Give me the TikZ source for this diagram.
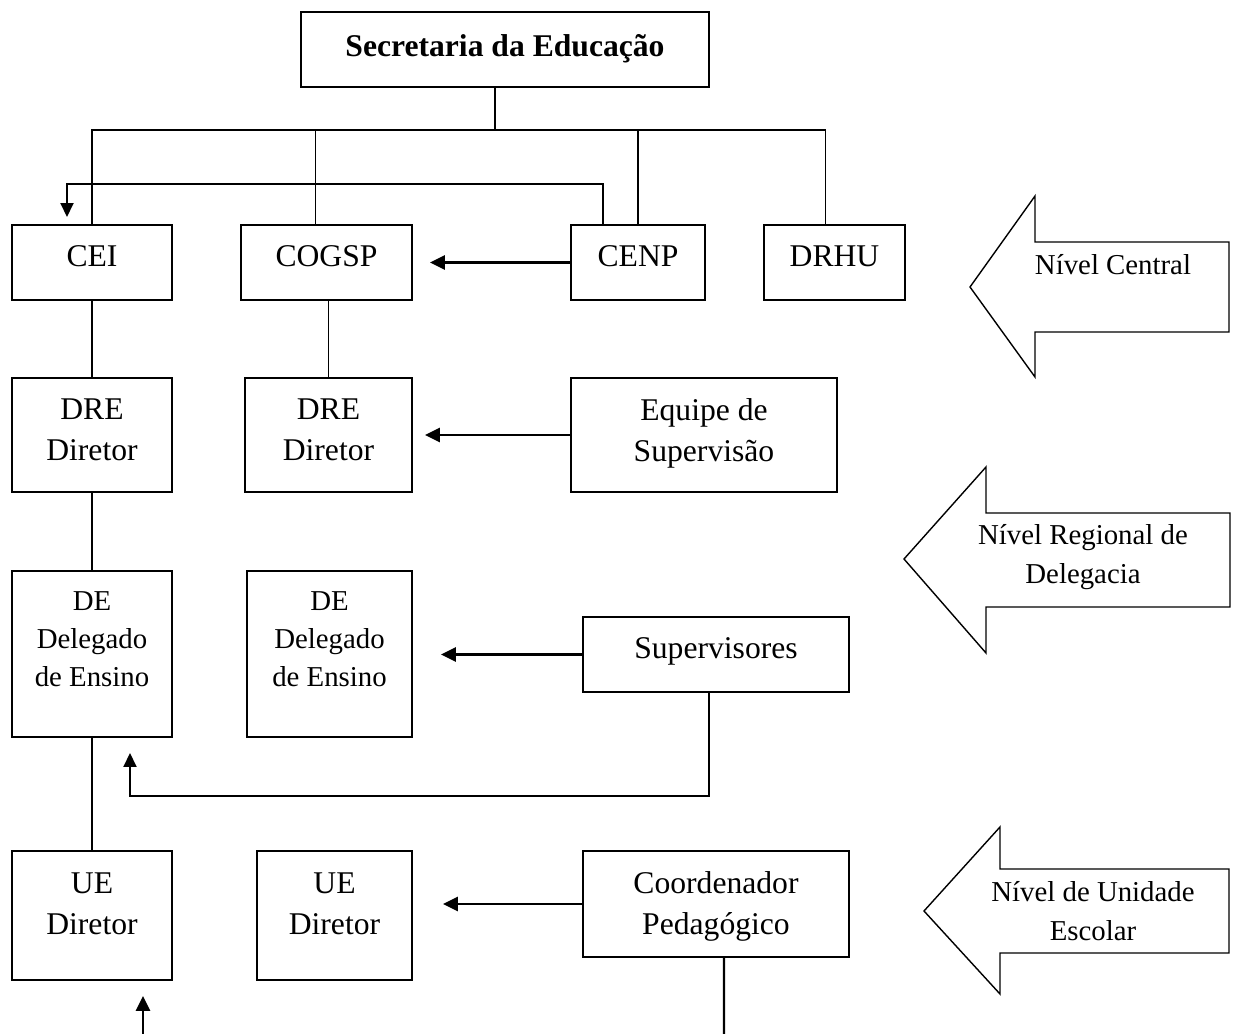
\documentclass[tikz,border=0pt]{standalone}
\usepackage{fontspec}
\setmainfont{Liberation Serif}
\usetikzlibrary{arrows.meta}

\tikzset{
  box/.style={draw, line width=1pt, inner sep=0pt, outer sep=0pt, align=center,
    text depth=0.24cm, font=\fontsize{18}{23.2}\selectfont},
  smalltext/.style={align=center, font=\fontsize{16.4}{21.8}\selectfont},
  levelarrow/.style={draw, line width=0.8pt, line join=miter},
  link/.style={line width=1pt},
  arr/.style={-{Triangle[length=0.28cm,width=0.26cm]}, line width=1.1pt},
  sidearr/.style={-{Triangle[length=0.3cm,width=0.28cm]}, line width=1.6pt}
}

\begin{document}
\begin{tikzpicture}[x=0.02cm, y=-0.02cm]
  \useasboundingbox (0,0) rectangle (1235,1034);

  % top
  \node[box, minimum width=8.16cm, minimum height=1.5cm, text depth=0.18cm,
    font=\fontsize{18}{23.2}\selectfont\bfseries] (sec) at (505,49.5) {Secretaria da Educação};

  % nivel central
  \node[box, minimum width=3.2cm, minimum height=1.5cm] (cei) at (92,262.5) {CEI};
  \node[box, minimum width=3.42cm, minimum height=1.5cm] (cogsp) at (326.5,262.5) {COGSP};
  \node[box, minimum width=2.68cm, minimum height=1.5cm] (cenp) at (638,262.5) {CENP};
  \node[box, minimum width=2.82cm, minimum height=1.5cm] (drhu) at (834.5,262.5) {DRHU};

  % nivel regional
  \node[box, minimum width=3.2cm, minimum height=2.28cm, text depth=0.2cm] (dre1) at (92,435) {DRE\\Diretor};
  \node[box, minimum width=3.34cm, minimum height=2.28cm, text depth=0.2cm] (dre2) at (328.5,435) {DRE\\Diretor};
  \node[box, minimum width=5.32cm, minimum height=2.28cm, text depth=0.2cm] (equipe) at (704,435) {Equipe de\\Supervisão};

  \node[box, smalltext, minimum width=3.2cm, minimum height=3.32cm, text depth=0.6cm] (de1) at (92,654) {DE\\Delegado\\de Ensino};
  \node[box, smalltext, minimum width=3.3cm, minimum height=3.32cm, text depth=0.6cm] (de2) at (329.5,654) {DE\\Delegado\\de Ensino};
  \node[box, minimum width=5.32cm, minimum height=1.5cm, text depth=0.26cm] (sup) at (716,654.5) {Supervisores};

  % nivel escola
  \node[box, minimum width=3.2cm, minimum height=2.58cm, text depth=0.48cm] (ue1) at (92,915.5) {UE\\Diretor};
  \node[box, minimum width=3.1cm, minimum height=2.58cm, text depth=0.48cm] (ue2) at (334.5,915.5) {UE\\Diretor};
  \node[box, minimum width=5.32cm, minimum height=2.12cm, text depth=0.05cm] (coord) at (716,904) {Coordenador\\Pedagógico};

  % tree lines
  \coordinate (trunk) at (495,130);
  \draw[link] (sec.south -| trunk) -- (trunk);
  \draw[link] (cei.north) -- (cei.north |- trunk) -- ([xshift=-0.18cm]drhu.north |- trunk)
    -- ([xshift=-0.18cm]drhu.north);
  \draw[link] ([xshift=-0.22cm]cogsp.north) -- ([xshift=-0.22cm]cogsp.north |- trunk);
  \draw[link] (cenp.north) -- (cenp.north |- trunk);
  \draw[link] (cei.south) -- (dre1.north);
  \draw[link] (dre2.north) -- (dre2.north |- cogsp.south);
  \draw[link] (dre1.south) -- (de1.north);
  \draw[link] (de1.south) -- (ue1.north);

  % arrows
  \coordinate (loop) at (67,184);
  \draw[arr] ([xshift=-0.7cm]cenp.north) |- (loop) -- ([yshift=0.16cm]loop |- cei.north);
  \draw[sidearr] (cenp.west) -- ([xshift=0.36cm]cogsp.east);
  \draw[sidearr] (equipe.west) -- ([xshift=0.26cm]dre2.east);
  \draw[sidearr] (sup.west) -- ([xshift=0.58cm]de2.east |- sup.west);
  \draw[sidearr] (coord.west) -- ([xshift=0.62cm]ue2.east |- coord.west);

  \coordinate (ret) at (130,796);
  \draw[arr] ([xshift=-0.14cm]sup.south) |- (ret) -- ([yshift=-0.32cm]ret |- de1.south);
  \coordinate (cbot) at (724,1034);
  \draw[link, line width=1.3pt] ([xshift=0.16cm]coord.south) -- (cbot);
  \coordinate (ubot) at (143,1034);
  \draw[sidearr] (ubot) -- ([yshift=-0.32cm]ubot |- ue1.south);

  % level arrows
  \draw[levelarrow] (970,287) -- (1035,196) -- (1035,242) -- (1229,242) -- (1229,332)
    -- (1035,332) -- (1035,377) -- cycle;
  \node[smalltext] (nc) at (1113,265) {Nível Central};

  \draw[levelarrow] (904,559) -- (986,467) -- (986,513) -- (1230,513) -- (1230,607)
    -- (986,607) -- (986,653) -- cycle;
  \node[smalltext] (nr) at (1083,557) {Nível Regional de\\Delegacia};

  \draw[levelarrow] (924,911) -- (1000,827) -- (1000,869) -- (1229,869) -- (1229,953)
    -- (1000,953) -- (1000,994) -- cycle;
  \node[smalltext] (nu) at (1093,911) {Nível de Unidade\\Escolar};
\end{tikzpicture}
\end{document}
